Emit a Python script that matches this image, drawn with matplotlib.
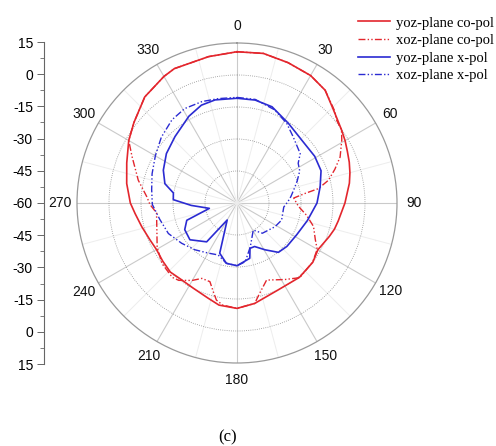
import numpy as np
import matplotlib
matplotlib.use("Agg")
import matplotlib.pyplot as plt
from matplotlib.ticker import FixedLocator, FuncFormatter

# ---- data (angle in degrees, gain in dB) ----
yoz_co_ang = [0, 10, 20, 30, 38, 45, 50, 55, 60, 65, 70, 75, 80, 90, 100, 105, 110, 115, 120,
              128, 140, 155, 170, 180, 190, 197, 207, 216, 224, 232, 240, 247, 256, 264, 270,
              280, 290, 300, 308, 319, 330, 335, 349, 360]
yoz_co_val = [10.9, 11.2, 10.0, 9.0, 7.1, 3.3, 1.3, -0.2, -1.5, -2.9, -4.0, -5.2, -6.5, -9.4,
              -11.8, -12.7, -14.0, -15.3, -16.2, -14.9, -14.5, -14.9, -12.2, -10.6, -11.4, -13.4,
              -15.1, -15.6, -15.0, -15.8, -16.4, -15.7, -14.0, -12.0, -10.0, -7.5, -5.0, -1.4,
              1.3, 5.9, 8.5, 9.5, 9.9, 10.9]

xoz_co_ang = [0, 10, 20, 30, 38, 47, 50, 55, 59, 66, 71, 76, 80, 82, 85, 93, 100, 107, 115, 120,
              128, 140, 148, 159, 166, 170, 180, 188, 192, 195, 199, 205, 210, 217, 221, 231, 241,
              249, 263, 269, 274, 283, 294, 300, 308, 319, 330, 335, 349, 360]
xoz_co_val = [10.9, 11.2, 10.0, 9.0, 7.1, 2.8, 0.8, -0.2, -2.7, -7.1, -11.5, -15.8, -21.3, -27.8,
              -33.3, -31.2, -26.9, -22.5, -19.5, -16.6, -15.0, -14.3, -17.7, -21.3, -16.3, -12.2,
              -10.6, -11.7, -13.5, -17.0, -21.0, -21.0, -18.1, -14.6, -13.8, -14.8, -17.2, -19.8,
              -22.0, -19.2, -17.6, -12.5, -6.1, -1.4, 1.3, 5.9, 8.5, 9.5, 9.9, 10.9]

yoz_x_ang = [0, 10, 20, 33, 46, 59, 69, 79, 90, 104, 118, 131, 140, 149, 158, 164, 167, 180, 190,
             199, 210, 218, 232, 243, 251, 259, 267, 273, 279, 285, 294, 305, 317, 331, 340, 348, 360]
yoz_x_val = [-10.9, -11.0, -12.0, -15.6, -17.7, -17.5, -17.8, -20.3, -22.5, -26.0, -28.3, -29.0,
             -29.8, -34.4, -38.0, -37.9, -33.4, -30.6, -31.3, -35.1, -50.8, -36.9, -32.0, -32.5,
             -35.1, -46.8, -38.5, -30.1, -29.8, -25.0, -22.2, -19.6, -17.4, -13.5, -11.2, -10.6,
             -10.9]

xoz_x_ang = [0, 10, 22, 32, 40, 52, 57, 63, 70, 75, 83, 88, 95, 111, 122, 140, 149, 163, 172,
             180, 190, 200, 210, 222, 234, 246, 258, 269, 279, 289, 300, 311, 322, 331, 341, 350,
             360]
xoz_x_val = [-10.5, -10.7, -12.9, -16.0, -19.2, -22.4, -25.8, -27.0, -30.0, -32.0, -34.5, -36.0,
             -38.0, -37.6, -39.0, -41.5, -45.2, -38.6, -32.2, -30.6, -31.3, -34.1, -32.9, -30.5,
             -27.9, -24.8, -23.0, -20.3, -19.5, -17.9, -15.8, -13.0, -10.5, -9.4, -9.7, -10.3,
             -10.5]

series_labels = ["yoz-plane co-pol", "xoz-plane co-pol", "yoz-plane x-pol", "xoz-plane x-pol"]
angle_ticks = [0, 30, 60, 90, 120, 150, 180, 210, 240, 270, 300, 330]
r_rings = [-45, -30, -15, 0]
r_min, r_max = -60, 15
left_ticks = [-75, -60, -45, -30, -15, 0, 15, 30, 45, 60, 75]

# ---- figure ----
W, H = 496, 446
fig = plt.figure(figsize=(W / 100, H / 100), dpi=100)
fig.patch.set_facecolor("white")

cx, cy, R = 237, 203, 160
ax = fig.add_axes([(cx - R) / W, (H - cy - R) / H, 2 * R / W, 2 * R / H], projection="polar")
ax.set_theta_zero_location("N")
ax.set_theta_direction(-1)
ax.set_ylim(r_min, r_max)
ax.set_yticks(r_rings)
ax.set_yticklabels([])
ax.set_xticks(np.deg2rad(angle_ticks))
ax.set_xticklabels([])
ax.xaxis.set_minor_locator(FixedLocator(np.deg2rad(np.arange(15, 360, 30))))
ax.grid(False)
ax.xaxis.grid(True, which="major", color="#cacaca", lw=0.8, ls="-")
ax.xaxis.grid(True, which="minor", color="#ededed", lw=0.7, ls="-")
ax.yaxis.grid(True, color="#8f8f8f", lw=0.6, ls=(0, (1, 1.6)))
ax.tick_params(axis="x", which="both", direction="in", length=3, color="#888888", width=0.6)
ax.spines["polar"].set_color("#9a9a9a")
ax.spines["polar"].set_linewidth(0.9)

red = "#e3262d"
blue = "#2b2bd2"
dd = (0, (5, 1.6, 1, 1.6, 1, 1.6))
l1, = ax.plot(np.deg2rad(yoz_co_ang), yoz_co_val, color=red, lw=1.2, ls="-")
l2, = ax.plot(np.deg2rad(xoz_co_ang), xoz_co_val, color=red, lw=1.0, ls=dd)
l3, = ax.plot(np.deg2rad(yoz_x_ang), yoz_x_val, color=blue, lw=1.2, ls="-")
l4, = ax.plot(np.deg2rad(xoz_x_ang), xoz_x_val, color=blue, lw=1.0, ls=dd)

# angle labels
for a in angle_ticks:
    t = np.deg2rad(a)
    f = 177 / R * 0.5
    ax.text(0.5 + f * np.sin(t), 0.5 + f * np.cos(t), str(a), transform=ax.transAxes,
            ha="center", va="center", fontsize=10, family="Liberation Sans", color="#111111")

# left linear scale
ax2 = fig.add_axes([44 / W, (H - 364) / H, 0.001, 322 / H])
ax2.set_ylim(-75, 75)
for s in ["top", "right", "bottom"]:
    ax2.spines[s].set_visible(False)
ax2.spines["left"].set_color("#666666")
ax2.spines["left"].set_linewidth(0.8)
ax2.set_xticks([])
ax2.set_yticks(left_ticks)
ax2.yaxis.set_minor_locator(FixedLocator(np.arange(-67.5, 75, 15)))
ax2.yaxis.set_major_formatter(FuncFormatter(lambda v, p: f"{int(abs(v) - 60)}"))
ax2.tick_params(axis="y", which="major", length=5, width=0.7, color="#666666",
                labelsize=10, pad=3)
ax2.tick_params(axis="y", which="minor", length=3, width=0.6, color="#666666")
for lab in ax2.get_yticklabels():
    lab.set_family("Liberation Sans")
ax2.patch.set_visible(False)

# legend
fig.legend([l1, l2, l3, l4], series_labels, loc="upper left",
           bbox_to_anchor=(351 / W, 1 - 9 / H), frameon=False, borderpad=0,
           handlelength=2.2, handletextpad=0.4, labelspacing=0.3,
           prop={"family": "Liberation Serif", "size": 10.5})

fig.text(228 / W, 1 - 437 / H, "(c)", ha="center", va="center",
         family="Liberation Serif", fontsize=12)

fig.savefig("out.png", dpi=100, facecolor="white")
